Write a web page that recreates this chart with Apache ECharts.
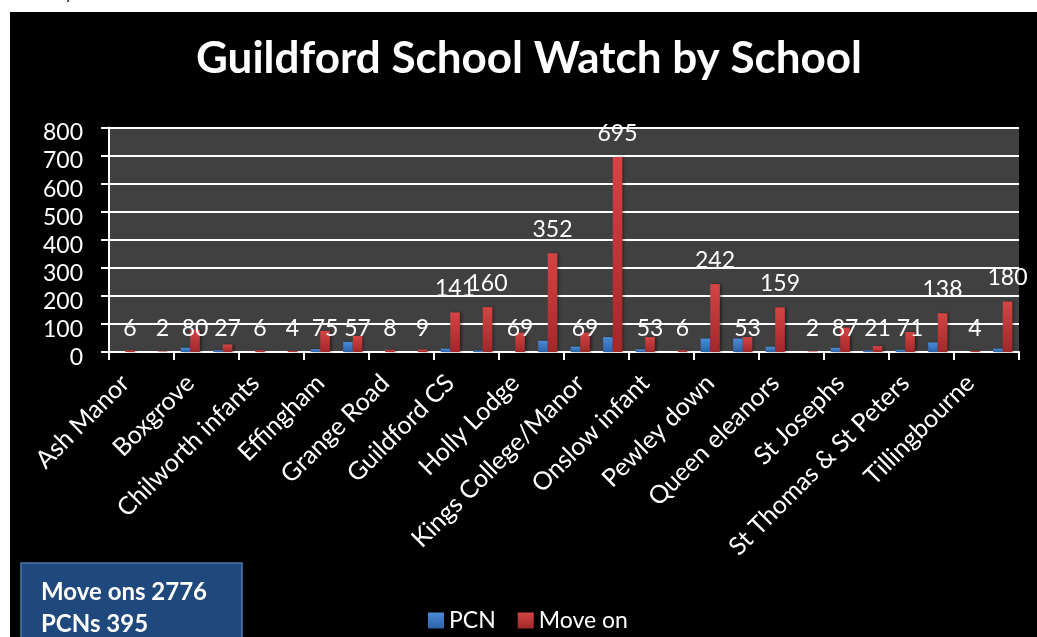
<!DOCTYPE html>
<html>
<head>
<meta charset="utf-8">
<title>Guildford School Watch by School</title>
<script src="https://cdn.jsdelivr.net/npm/echarts@6/dist/echarts.min.js"></script>
<style>
  html, body { margin: 0; padding: 0; background: #fff; }
  #main { width: 1037px; height: 637px; }
</style>
</head>
<body>
<div id="main"></div>
<script>
// every other school name is shown on the axis, the rest are not readable
var schools = ['Ash Manor', '', 'Boxgrove', '', 'Chilworth infants', '', 'Effingham', '',
    'Grange Road', '', 'Guildford CS', '', 'Holly Lodge', '', 'Kings College/Manor', '',
    'Onslow infant', '', 'Pewley down', '', 'Queen eleanors', '', 'St Josephs', '',
    'St Thomas & St Peters', '', 'Tillingbourne', ''];
var pcn = [0, 0, 15, 6, 0, 0, 10, 36, 0, 0, 12, 5, 0, 40, 19, 53, 10, 0, 48, 48, 19, 0, 15, 5, 8, 34, 0, 12];
var moveOn = [6, 2, 80, 27, 6, 4, 75, 57, 8, 9, 141, 160, 69, 352, 69, 695, 53, 6, 242, 53, 159, 2, 87, 21, 71, 138, 4, 180];
var yMin = 0, yMax = 800, yStep = 100;
var totalsText = ['Move ons 2776', 'PCNs 395'];

var font = 'Lato, "Open Sans", sans-serif';

var myChart = echarts.init(document.getElementById('main'));

var blueFill = new echarts.graphic.LinearGradient(0, 0, 0, 1, [
    {offset: 0, color: '#4b8bd8'},
    {offset: 1, color: '#2c62a7'}
]);
var redFill = new echarts.graphic.LinearGradient(0, 0, 0, 1, [
    {offset: 0, color: '#d54444'},
    {offset: 1, color: '#a2282a'}
]);

// small bars keep their label up near the 100 line, like the original
var moveOnData = moveOn.map(function (v) {
    return {value: v, label: {position: v < 100 ? 'insideBottom' : 'top'}};
});

var option = {
    backgroundColor: '#000',
    animation: false,
    textStyle: {fontFamily: font},
    grid: {
        left: 109,
        right: 18,
        top: 127.5,
        bottom: 285,
        show: true,
        backgroundColor: '#404040',
        borderWidth: 0
    },
    legend: {
        data: ['PCN', 'Move on'],
        left: 423,
        top: 604,
        icon: 'rect',
        itemWidth: 16,
        itemHeight: 16,
        itemGap: 22,
        textStyle: {color: '#fff', fontSize: 23, fontFamily: font}
    },
    xAxis: {
        type: 'category',
        data: schools,
        axisLine: {lineStyle: {color: '#fff', width: 2}},
        axisTick: {show: true, length: 8, lineStyle: {color: '#fff', width: 2}},
        axisLabel: {
            interval: 1,
            rotate: 45,
            margin: 27,
            color: '#fff',
            fontSize: 25,
            fontFamily: font
        }
    },
    yAxis: {
        type: 'value',
        min: yMin,
        max: yMax,
        interval: yStep,
        axisLine: {show: true, lineStyle: {color: '#fff', width: 2}},
        axisTick: {show: true, length: 8, lineStyle: {color: '#fff', width: 2}},
        axisLabel: {
            margin: 26,
            color: '#fff',
            fontSize: 23,
            fontFamily: font,
            verticalAlign: 'top',
            lineHeight: 11
        },
        splitLine: {lineStyle: {color: '#fff', width: 2}}
    },
    series: [
        {
            name: 'PCN',
            type: 'bar',
            data: pcn,
            barGap: '0%',
            barCategoryGap: '41%',
            itemStyle: {
                color: blueFill,
                shadowColor: 'rgba(0,0,0,0.45)',
                shadowBlur: 3,
                shadowOffsetX: 2
            }
        },
        {
            name: 'Move on',
            type: 'bar',
            data: moveOnData,
            barGap: '0%',
            barCategoryGap: '41%',
            itemStyle: {
                color: redFill,
                shadowColor: 'rgba(0,0,0,0.45)',
                shadowBlur: 3,
                shadowOffsetX: 2
            },
            label: {
                show: true,
                distance: 12,
                color: '#fff',
                fontSize: 23,
                fontFamily: font
            }
        }
    ],
    graphic: [
        // white page margin around the pasted chart
        {type: 'rect', z: 100, shape: {x: 0, y: 0, width: 1037, height: 12}, style: {fill: '#fff'}},
        {type: 'rect', z: 100, shape: {x: 0, y: 0, width: 10, height: 637}, style: {fill: '#fff'}},
        {
            type: 'text', z: 101, x: 0, y: 2,
            style: {text: 'Patrols by School', fill: '#000', font: '17px ' + font, verticalAlign: 'bottom'}
        },
        {
            type: 'text', z: 10, x: 529, y: 59,
            style: {
                text: 'Guildford School Watch by School',
                fill: '#fff',
                font: 'bold 44px ' + font,
                textAlign: 'center',
                verticalAlign: 'middle'
            }
        },
        {
            type: 'rect', z: 10,
            shape: {x: 21, y: 563, width: 221, height: 90},
            style: {fill: '#1f487c', stroke: '#4d78ad', lineWidth: 1.5}
        },
        {
            type: 'text', z: 11, x: 41, y: 592,
            style: {text: totalsText[0], fill: '#fff', font: 'bold 24px ' + font, verticalAlign: 'middle'}
        },
        {
            type: 'text', z: 11, x: 41, y: 624,
            style: {text: totalsText[1], fill: '#fff', font: 'bold 24px ' + font, verticalAlign: 'middle'}
        }
    ]
};

myChart.setOption(option);
</script>
</body>
</html>
